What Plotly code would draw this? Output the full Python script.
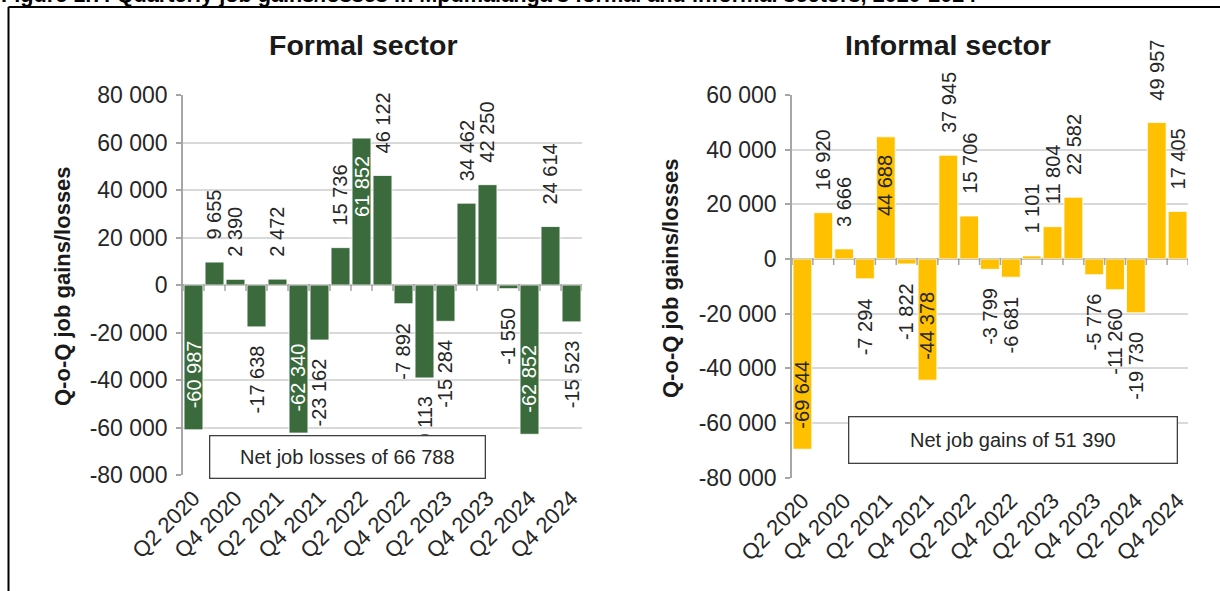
import plotly.graph_objects as go

# ---------------- data ----------------
quarters = ["Q2 2020", "Q3 2020", "Q4 2020", "Q1 2021", "Q2 2021", "Q3 2021", "Q4 2021",
            "Q1 2022", "Q2 2022", "Q3 2022", "Q4 2022", "Q1 2023", "Q2 2023", "Q3 2023",
            "Q4 2023", "Q1 2024", "Q2 2024", "Q3 2024", "Q4 2024"]
tick_quarters = quarters[::2]

formal = [-60987, 9655, 2390, -17638, 2472, -62340, -23162, 15736, 61852, 46122,
          -7892, -39113, -15284, 34462, 42250, -1550, -62852, 24614, -15523]
informal = [-69644, 16920, 3666, -7294, 44688, -1822, -44378, 37945, 15706, -3799,
            -6681, 1101, 11804, 22582, -5776, -11260, -19730, 49957, 17405]

formal_ticks = [80000, 60000, 40000, 20000, 0, -20000, -40000, -60000, -80000]
informal_ticks = [60000, 40000, 20000, 0, -20000, -40000, -60000, -80000]

caption = "Figure 1.7: Quarterly job gains/losses in Mpumalanga's formal and informal sectors, 2020-2024"
titles = ["Formal sector", "Informal sector"]
y_title = "Q-o-Q job gains/losses"

# ---------------- style ----------------
W, H = 1220, 591
FONT = "Liberation Sans, Arial, Helvetica, sans-serif"
GREEN = "#3b6b3d"
GOLD = "#ffc000"
GRID = "#d9d9d9"
AXIS = "#a6a6a6"
TXT = "#262626"
inside_formal = [0, 5, 8, 16]
inside_informal = [0, 4, 6]


def fmt(v):
    return f"{v:,}".replace(",", " ")


def px_x(p):
    return p / W


def px_y(p):
    return 1 - p / H


fig = go.Figure()

fig.add_trace(go.Bar(x=quarters, y=formal, xaxis="x", yaxis="y",
                     marker=dict(color=GREEN, line=dict(color="white", width=0.8)),
                     showlegend=False, hoverinfo="x+y"))
fig.add_trace(go.Bar(x=quarters, y=informal, xaxis="x2", yaxis="y2",
                     marker=dict(color=GOLD, line=dict(color="white", width=0.8)),
                     showlegend=False, hoverinfo="x+y"))


def yaxis_cfg(ticks, rng, dom, anchor):
    return dict(domain=dom, range=rng, anchor=anchor, tickvals=ticks,
                ticktext=[fmt(t) for t in ticks], automargin=False,
                showline=True, linecolor=AXIS, linewidth=1.5, ticks="outside", ticklen=5,
                tickcolor=AXIS, tickwidth=1.5, showgrid=True, gridcolor=GRID, gridwidth=1.5,
                zeroline=True, zerolinecolor=AXIS, zerolinewidth=1.5,
                tickfont=dict(size=23, color=TXT, family=FONT), ticklabelstandoff=4)


def xaxis_cfg(dom, anchor):
    return dict(domain=dom, anchor=anchor, type="category", tickvals=tick_quarters,
                tickangle=-45, showline=False, ticks="", showgrid=False, zeroline=False,
                automargin=False,
                tickfont=dict(size=22, color=TXT, family=FONT), ticklabelstandoff=5,
                range=[-0.5, len(quarters) - 0.5])


fig.update_layout(
    width=W, height=H, autosize=False,
    margin=dict(l=0, r=0, t=0, b=0, pad=0),
    paper_bgcolor="white", plot_bgcolor="white",
    font=dict(family=FONT, color=TXT),
    bargap=0.1, showlegend=False,
    xaxis=xaxis_cfg([px_x(183), px_x(582)], "y"),
    yaxis=yaxis_cfg(formal_ticks, [-80000, 80000], [px_y(475), px_y(95)], "x"),
    xaxis2=xaxis_cfg([px_x(792), px_x(1188)], "y2"),
    yaxis2=yaxis_cfg(informal_ticks, [-80000, 60000], [px_y(477.5), px_y(95)], "x2"),
)

shapes = []
# category boundary tick marks on the zero line
for xr, yr in (("x", "y"), ("x2", "y2")):
    for i in range(len(quarters) + 1):
        shapes.append(dict(type="line", xref=xr, yref=yr, x0=i - 0.5, x1=i - 0.5,
                           ysizemode="pixel", yanchor=0, y0=0, y1=-6,
                           line=dict(color=AXIS, width=1.5), layer="above"))
# frame lines
shapes.append(dict(type="line", xref="paper", yref="paper", x0=px_x(8.5), x1=px_x(8.5),
                   y0=px_y(7), y1=0, line=dict(color="#000000", width=2)))
shapes.append(dict(type="line", xref="paper", yref="paper", x0=px_x(8.5), x1=1.0,
                   y0=px_y(7), y1=px_y(7), line=dict(color="#000000", width=2)))
fig.update_layout(shapes=shapes)

ann = []
# data labels
for series, xr, yr, inside, in_color in ((formal, "x", "y", inside_formal, "white"),
                                         (informal, "x2", "y2", inside_informal, TXT)):
    for i, (q, v) in enumerate(zip(quarters, series)):
        if i in inside:
            if v < 0:
                ya, ys = "bottom", 19
            else:
                ya, ys = "top", -16
            col = in_color
        else:
            if v < 0:
                ya, ys = "top", -17
            else:
                ya, ys = "bottom", 20
            col = TXT
        ann.append(dict(x=q, y=v, xref=xr, yref=yr, text=fmt(v), textangle=-90,
                        showarrow=False, yanchor=ya, xanchor="center", yshift=ys,
                        font=dict(size=20, color=col, family=FONT)))

# net boxes (drawn after labels so they cover them)
net_f = sum(formal)
net_i = sum(informal)
ann.append(dict(xref="paper", yref="paper", x=px_x(347), y=px_y(456.5), showarrow=False,
                text=f"Net job {'losses' if net_f < 0 else 'gains'} of {fmt(abs(net_f))}",
                width=272, height=39, bgcolor="white", bordercolor="#404040", borderwidth=1.3,
                borderpad=1, xanchor="center", yanchor="middle",
                font=dict(size=20, color=TXT, family=FONT)))
ann.append(dict(xref="paper", yref="paper", x=px_x(1012.5), y=px_y(439.5), showarrow=False,
                text=f"Net job {'losses' if net_i < 0 else 'gains'} of {fmt(abs(net_i))}",
                width=325, height=43, bgcolor="white", bordercolor="#404040", borderwidth=1.3,
                borderpad=1, xanchor="center", yanchor="middle",
                font=dict(size=20, color=TXT, family=FONT)))

# titles
for t, cx in zip(titles, (363, 948)):
    ann.append(dict(xref="paper", yref="paper", x=px_x(cx), y=px_y(45), text=f"<b>{t}</b>",
                    showarrow=False, xanchor="center", yanchor="middle",
                    font=dict(size=28.5, color="#1a1a1a", family=FONT)))
# y-axis titles
for cx, cy in ((62, 286), (670, 278)):
    ann.append(dict(xref="paper", yref="paper", x=px_x(cx), y=px_y(cy), text=f"<b>{y_title}</b>",
                    showarrow=False, xanchor="center", yanchor="middle", textangle=-90,
                    font=dict(size=22, color="#1a1a1a", family=FONT)))
# clipped caption at the very top (only its lower part shows, as in the source)
ann.append(dict(xref="paper", yref="paper", x=0, y=1, xanchor="left", yanchor="bottom",
                xshift=-1, yshift=-9.5, text=f"<b>{caption}</b>", showarrow=False,
                font=dict(size=21.7, color="#000000", family=FONT)))

fig.update_layout(annotations=ann)

fig.write_html("out.html", config={"displayModeBar": False},
               post_script="document.body.style.margin='0px';")
